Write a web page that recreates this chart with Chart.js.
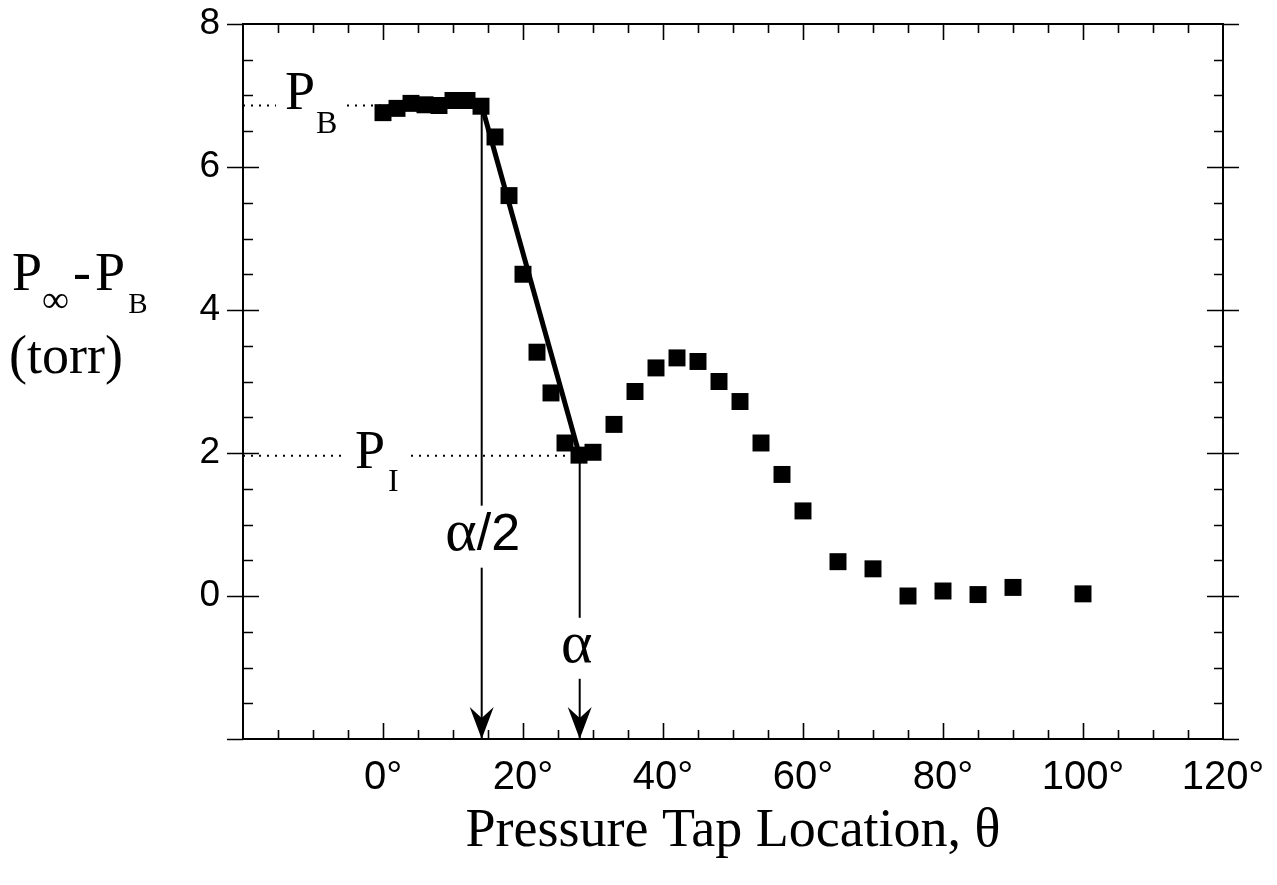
<!DOCTYPE html>
<html lang="en">
<head>
  <meta charset="UTF-8">
  <title>Pressure Tap Location</title>
  <script src="https://cdn.jsdelivr.net/npm/chart.js"></script>
  <style>
    body { margin: 0; background: #fff; }
    #wrap { width: 1277px; height: 885px; }
  </style>
</head>
<body>
  <div id="wrap"><canvas id="tapChart"></canvas></div>

<script>
  // measured pressure difference vs tap angle
  const thetaDeg = [0, 2, 4, 6, 8, 10, 12, 14, 16, 18, 20, 22, 24, 26, 28, 30,
                    33, 36, 39, 42, 45, 48, 51, 54, 57, 60, 65, 70, 75, 80, 85, 90, 100];
  const pressureDiff = [6.76, 6.82, 6.89, 6.87, 6.86, 6.93, 6.93, 6.85, 6.42, 5.60, 4.50,
                        3.41, 2.84, 2.14, 1.97, 2.01, 2.40, 2.86, 3.19, 3.33, 3.28, 3.00,
                        2.72, 2.14, 1.70, 1.19, 0.48, 0.38, 0.00, 0.07, 0.02, 0.12, 0.03];

  // fitted drop and reference levels
  const pbLevel = 6.86;
  const piLevel = 1.96;
  const alphaHalf = 14.1;
  const alphaFull = 28.1;
  const fitX = [alphaHalf, alphaFull];
  const fitY = [pbLevel, piLevel];

  const xTickLabels = [0, 20, 40, 60, 80, 100, 120];
  const yTickLabels = [0, 2, 4, 6, 8];
  const xMin = -20, xMax = 120, yMin = -2, yMax = 8;

  const black = '#000';
  const serif = '"Liberation Serif", "Times New Roman", serif';
  const sans = '"Liberation Sans", Arial, sans-serif';

  function pts(xs, ys) {
    return xs.map((x, i) => ({ x: x, y: ys[i] }));
  }

  // draw text made of pieces (normal + subscript), left aligned at x
  function drawPieces(ctx, pieces, x, y) {
    let cx = x;
    pieces.forEach(p => {
      ctx.font = p.font;
      ctx.fillText(p.t, cx, y + (p.dy || 0));
      cx += ctx.measureText(p.t).width + (p.gap || 0);
    });
    return cx;
  }

  function piecesWidth(ctx, pieces) {
    let w = 0;
    pieces.forEach(p => { ctx.font = p.font; w += ctx.measureText(p.t).width + (p.gap || 0); });
    return w;
  }

  const framePlugin = {
    id: 'framePlugin',
    afterDatasetsDraw(chart) {
      const ctx = chart.ctx;
      const xs = chart.scales.x, ys = chart.scales.y;
      ctx.save();
      ctx.fillStyle = black;
      ctx.textBaseline = 'alphabetic';

      const big = '54px ' + serif;
      const sub = '32px ' + serif;

      // P_B label over the dotted line
      let px = xs.getPixelForValue(-14.0), py = ys.getPixelForValue(pbLevel) + 3;
      let parts = [{ t: 'P', font: big, gap: 1 }, { t: 'B', font: sub, dy: 24 }];
      let w = piecesWidth(ctx, parts);
      ctx.fillStyle = '#fff';
      ctx.fillRect(px - 9, py - 40, w + 18, 40 + 30);
      ctx.fillStyle = black;
      drawPieces(ctx, parts, px, py);

      // P_I label
      px = xs.getPixelForValue(-4.0); py = ys.getPixelForValue(piLevel) + 12;
      parts = [{ t: 'P', font: big, gap: 3 }, { t: 'I', font: sub, dy: 23 }];
      w = piecesWidth(ctx, parts);
      ctx.fillStyle = '#fff';
      ctx.fillRect(px - 9, py - 40, w + 18, 40 + 28);
      ctx.fillStyle = black;
      drawPieces(ctx, parts, px, py);

      // alpha/2 label on the arrow
      px = xs.getPixelForValue(alphaHalf); py = ys.getPixelForValue(0.62);
      parts = [{ t: 'α', font: '60px ' + serif }, { t: '/2', font: '52px ' + sans }];
      w = piecesWidth(ctx, parts);
      ctx.fillStyle = '#fff';
      ctx.fillRect(px - w / 2 - 4, py - 46, w + 8, 46 + 16);
      ctx.fillStyle = black;
      drawPieces(ctx, parts, px - w / 2 + 1, py - 2);

      // alpha label
      px = xs.getPixelForValue(alphaFull); py = ys.getPixelForValue(-0.92);
      parts = [{ t: 'α', font: '60px ' + serif }];
      w = piecesWidth(ctx, parts);
      ctx.fillStyle = '#fff';
      ctx.fillRect(px - w / 2 - 4, py - 44, w + 8, 44 + 17);
      ctx.fillStyle = black;
      drawPieces(ctx, parts, px - w / 2 - 3, py);

      // arrow heads at the bottom axis
      [alphaHalf, alphaFull].forEach(v => {
        const ax = xs.getPixelForValue(v), ay = ys.getPixelForValue(yMin);
        ctx.beginPath();
        ctx.moveTo(ax, ay);
        ctx.lineTo(ax - 12, ay - 32);
        ctx.lineTo(ax, ay - 21);
        ctx.lineTo(ax + 12, ay - 32);
        ctx.closePath();
        ctx.fill();
      });

      // y axis title
      drawPieces(ctx, [
        { t: 'P', font: big, gap: 0 },
        { t: '∞', font: '38px ' + serif, dy: 22, gap: 4 },
        { t: '-', font: big, gap: 4 },
        { t: 'P', font: big, gap: 3 },
        { t: 'B', font: '29px ' + serif, dy: 23 }
      ], 12, 290);
      ctx.font = big;
      ctx.fillText('(torr)', 9, 373);

      ctx.restore();
    },
    afterDraw(chart) {
      const ctx = chart.ctx;
      const a = chart.chartArea;
      const xs = chart.scales.x, ys = chart.scales.y;
      ctx.save();
      ctx.strokeStyle = black;
      ctx.lineWidth = 2;
      ctx.strokeRect(a.left, a.top, a.right - a.left, a.bottom - a.top);
      ctx.lineWidth = 1.6;
      ctx.beginPath();
      xs.ticks.forEach(t => {
        if (t.value <= xMin || t.value >= xMax) return;
        const x = Math.round(xs.getPixelForValue(t.value)) + 0.5;
        const len = t.value % 20 === 0 ? 16 : 9;
        ctx.moveTo(x, a.bottom); ctx.lineTo(x, a.bottom - len);
        ctx.moveTo(x, a.top); ctx.lineTo(x, a.top + len);
      });
      ys.ticks.forEach(t => {
        const y = Math.round(ys.getPixelForValue(t.value)) + 0.5;
        if (t.value <= yMin || t.value >= yMax) {
          // outer stubs at the frame corners
          ctx.moveTo(a.left - 16, y); ctx.lineTo(a.left, y);
          ctx.moveTo(a.right, y); ctx.lineTo(a.right + 16, y);
          return;
        }
        if (t.value % 2 === 0) {
          ctx.moveTo(a.left - 16, y); ctx.lineTo(a.left + 16, y);
          ctx.moveTo(a.right - 16, y); ctx.lineTo(a.right + 16, y);
        } else {
          ctx.moveTo(a.left, y); ctx.lineTo(a.left + 10, y);
          ctx.moveTo(a.right, y); ctx.lineTo(a.right - 9, y);
        }
      });
      ctx.stroke();
      ctx.restore();
    }
  };

  const ctx = document.getElementById('tapChart').getContext('2d');

  new Chart(ctx, {
    type: 'scatter',
    data: {
      datasets: [
        {
          label: 'measured',
          data: pts(thetaDeg, pressureDiff),
          pointStyle: 'rect',
          pointRadius: 12,
          borderWidth: 0,
          backgroundColor: black,
          order: 1
        },
        {
          label: 'fit',
          type: 'line',
          data: pts(fitX, fitY),
          borderColor: black,
          borderWidth: 5,
          pointRadius: 0,
          order: 0
        },
        {
          label: 'PB level',
          type: 'line',
          data: pts([xMin, alphaHalf], [pbLevel, pbLevel]),
          borderColor: black,
          borderWidth: 2,
          borderDash: [2, 6],
          pointRadius: 0,
          order: 3
        },
        {
          label: 'PI level',
          type: 'line',
          data: pts([xMin, alphaFull], [piLevel, piLevel]),
          borderColor: black,
          borderWidth: 2,
          borderDash: [2, 6],
          pointRadius: 0,
          order: 3
        },
        {
          label: 'alpha/2',
          type: 'line',
          data: pts([alphaHalf, alphaHalf], [pbLevel, yMin]),
          borderColor: black,
          borderWidth: 2,
          pointRadius: 0,
          order: 2
        },
        {
          label: 'alpha',
          type: 'line',
          data: pts([alphaFull, alphaFull], [piLevel, yMin]),
          borderColor: black,
          borderWidth: 2,
          pointRadius: 0,
          order: 2
        }
      ]
    },
    options: {
      responsive: true,
      maintainAspectRatio: false,
      animation: false,
      layout: { padding: { top: 24, right: 54, left: 0, bottom: 0 } },
      plugins: {
        legend: { display: false },
        tooltip: { enabled: false }
      },
      scales: {
        x: {
          type: 'linear',
          min: xMin,
          max: xMax,
          grid: { display: false },
          border: { display: false },
          afterFit: s => { s.height = 146; s.paddingLeft = 0; s.paddingRight = 0; },
          ticks: {
            stepSize: 5,
            autoSkip: false,
            maxRotation: 0,
            padding: 7,
            color: black,
            font: { family: sans, size: 40 },
            callback: v => xTickLabels.includes(v) ? v + '°' : ''
          },
          title: {
            display: true,
            text: 'Pressure Tap Location, θ',
            color: black,
            font: { family: serif, size: 54 },
            padding: { bottom: 21 }
          }
        },
        y: {
          min: yMin,
          max: yMax,
          grid: { display: false },
          border: { display: false },
          afterFit: s => { s.width = 243; s.paddingTop = 0; s.paddingBottom = 0; },
          ticks: {
            stepSize: 0.5,
            autoSkip: false,
            padding: 15,
            color: black,
            font: { family: sans, size: 37 },
            callback: v => yTickLabels.includes(v) ? String(v) : ''
          }
        }
      }
    },
    plugins: [framePlugin]
  });
</script>
</body>
</html>
